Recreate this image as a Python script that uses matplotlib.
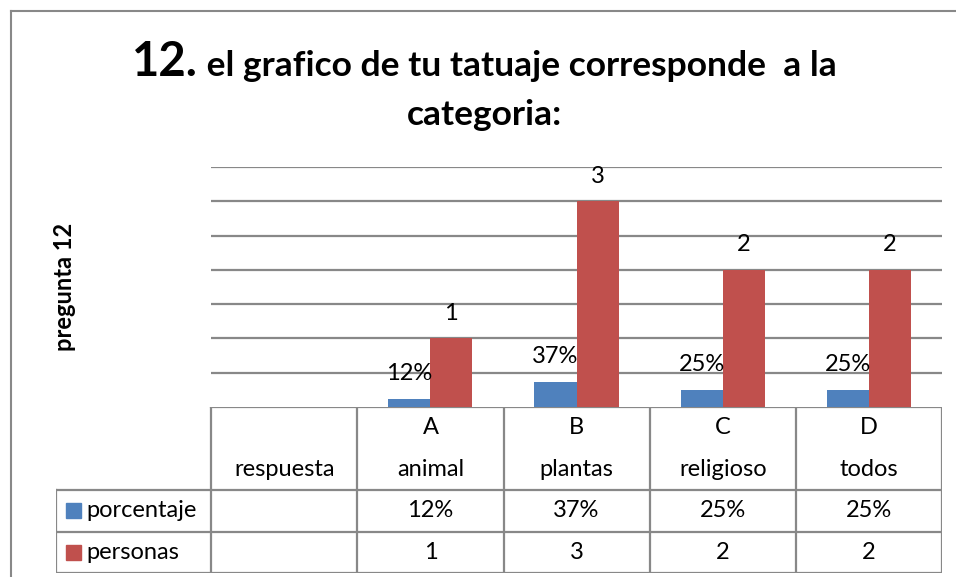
#!/usr/bin/env python3
"""Bar chart with data table: tattoo category survey (pregunta 12)."""

import matplotlib
matplotlib.use("Agg")
import matplotlib.pyplot as plt
from matplotlib.lines import Line2D
from matplotlib.patches import Rectangle
import numpy as np

plt.rcParams["font.family"] = ["Lato", "DejaVu Sans"]

BLUE = "#4F81BD"
RED = "#C0504D"
GRID = "#888888"
FS = 17

letters = ["", "A", "B", "C", "D"]
categories = ["respuesta", "animal", "plantas", "religioso", "todos"]
porcentaje = [None, 0.12, 0.37, 0.25, 0.25]
porcentaje_txt = ["", "12%", "37%", "25%", "25%"]
personas = [None, 1, 3, 2, 2]
personas_txt = ["", "1", "3", "2", "2"]
series_names = ["porcentaje", "personas"]

W, H = 956, 577
fig = plt.figure(figsize=(W / 100, H / 100), dpi=100)


def px_box(x0, y0, x1, y1):
    # pixel box (top-left origin) -> figure rect
    return [x0 / W, 1 - y1 / H, (x1 - x0) / W, (y1 - y0) / H]


# outer chart frame (only top and left visible)
fig.add_artist(Line2D([11 / W, 1], [1 - 11 / H] * 2, color=GRID, lw=1.5))
fig.add_artist(Line2D([11 / W] * 2, [0, 1 - 11 / H], color=GRID, lw=1.5))

# ---- bars ----
ax = fig.add_axes(px_box(211, 167, 942, 407))
n = len(categories)
bw = 42 / 146
idx = [i for i in range(n) if personas[i] is not None]
pv = [porcentaje[i] for i in idx]
rv = [personas[i] for i in idx]
xb = np.array(idx) - bw / 2
xr = np.array(idx) + bw / 2
ax.bar(xb, pv, width=bw, color=BLUE, zorder=3)
ax.bar(xr, rv, width=bw, color=RED, zorder=3)
for xi, v, i in zip(xb, pv, idx):
    ax.annotate(porcentaje_txt[i], (xi, v), xytext=(0, 18), textcoords="offset points",
                ha="center", va="center", fontsize=FS)
for xi, v, i in zip(xr, rv, idx):
    ax.annotate(personas_txt[i], (xi, v), xytext=(0, 18), textcoords="offset points",
                ha="center", va="center", fontsize=FS)

ax.set_xlim(-0.5, n - 0.5)
ax.set_ylim(0, 3.5)
ax.set_yticks(np.arange(0.5, 3.51, 0.5))
ax.set_xticks([])
ax.yaxis.grid(True, color=GRID, lw=1.6)
ax.tick_params(axis="y", length=0, labelleft=False)
for s in ax.spines.values():
    s.set_visible(False)

fig.text(65 / W, 1 - 287 / H, "pregunta 12", rotation=90, fontsize=17,
         fontweight="bold", ha="center", va="center")

# ---- data table ----
left_px = 56
xl = (left_px - 211) / 146 - 0.5
tax = fig.add_axes(px_box(left_px, 407, 942, 573))
tax.set_xlim(xl, n - 0.5)
tax.set_ylim(0, 4)
tax.axis("off")
lk = dict(color=GRID, lw=1.6, solid_capstyle="projecting")
tax.plot([-0.5, n - 0.5], [4, 4], **lk)
for yy in [2, 1, 0]:
    tax.plot([xl, n - 0.5], [yy, yy], **lk)
tax.plot([xl, xl], [0, 2], **lk)
for b in np.arange(-0.5, n, 1.0):
    tax.plot([b, b], [0, 4], **lk)
for i in range(n):
    if letters[i]:
        tax.text(i, 3.5, letters[i], ha="center", va="center", fontsize=FS)
    tax.text(i, 2.5, categories[i], ha="center", va="center", fontsize=FS)
    tax.text(i, 1.5, porcentaje_txt[i], ha="center", va="center", fontsize=FS)
    tax.text(i, 0.5, personas_txt[i], ha="center", va="center", fontsize=FS)
sw = 15 / 146
for yrow, name, col in [(1.5, series_names[0], BLUE), (0.5, series_names[1], RED)]:
    tax.add_patch(Rectangle(((66 - 211) / 146 - 0.5, yrow - 0.18), sw, 0.36,
                            color=col, clip_on=False))
    tax.text((86 - 211) / 146 - 0.5, yrow, name, ha="left", va="center", fontsize=FS)

# ---- title with larger "12." ----
t1 = fig.text(0, 1 - 76 / H, "12.", fontsize=34, fontweight="bold", va="baseline")
t2 = fig.text(0, 1 - 76 / H, " el grafico de tu tatuaje corresponde  a la",
              fontsize=25.5, fontweight="bold", va="baseline")
fig.text(484 / W, 1 - 125 / H, "categoria:", fontsize=25.5, fontweight="bold",
         ha="center", va="baseline")
r = fig.canvas.get_renderer()
w1 = t1.get_window_extent(r).width
w2 = t2.get_window_extent(r).width
start = 484 - (w1 + w2) / 2
t1.set_x(start / W)
t2.set_x((start + w1) / W)

fig.savefig("out.png", dpi=100)
